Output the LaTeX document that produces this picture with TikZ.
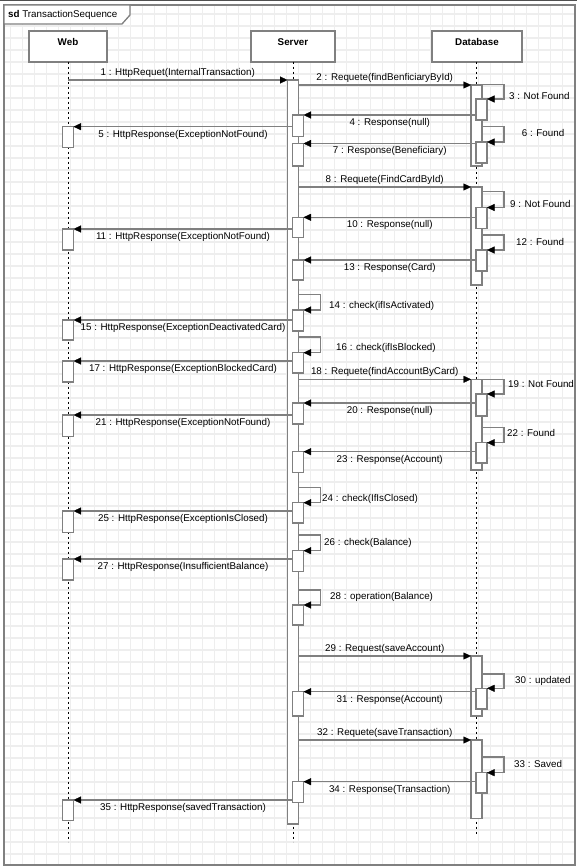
\documentclass[tikz,border=0pt]{standalone}
\usepackage{fontspec}
\setmainfont{Liberation Sans}
\usetikzlibrary{arrows.meta}
\definecolor{ln}{RGB}{128,128,128}
\definecolor{gridc}{RGB}{238,238,238}
\definecolor{topbar}{RGB}{80,80,80}
\newcommand\fsz{\fontsize{9.8}{11}\selectfont}
\newcommand\abar[4]{\pgfmathsetmacro\hh{#4-#3}\pgfmathsetmacro\cy{(#3+#4)/2}\node[actbar, minimum height=\hh pt] (#1) at (#2,\cy) {};}
\tikzset{
  gridl/.style={draw=gridc, line width=1.4pt},
  framel/.style={draw=ln, line width=1.3pt},
  msg/.style={draw=ln, line width=1.2pt, -{Triangle[length=7.5pt,width=7pt,color=black,line width=0.3pt]}},
  actbar/.style={draw=ln, fill=white, line width=1.2pt, minimum width=11pt, inner sep=0pt, outer sep=0pt},
  head/.style={draw=ln, line width=1.8pt, fill=white, inner sep=0pt, outer sep=0pt, minimum height=30.7pt, text height=14.2pt, text depth=16.5pt, font=\bfseries\fsz},
  lifeline/.style={draw=black, line width=0.8pt, dash pattern=on 2.5pt off 2.5pt},
  lbl/.style={font=\fsz, inner sep=0pt, text=black},
  req/.style={lbl, yshift=7.3pt},
  rsp/.style={lbl, yshift=-7.8pt}
}
\begin{document}
\begin{tikzpicture}[x=1pt, y=-1pt]
\useasboundingbox (0,0) rectangle (577,867);
% grid
\begin{scope}
\clip (4,5) rectangle (575,865);
\foreach \i in {0,...,47} \draw[gridl] ({10.7+12*\i},0) -- ({10.7+12*\i},867);
\foreach \j in {0,...,72} \draw[gridl] (0,{2+12*\j}) -- (577,{2+12*\j});
\end{scope}
\fill[topbar] (0,0) rectangle (577,1.5);
% frame
\draw[framel] (4,5) rectangle (575,865);
\draw[framel, fill=white] (4,5) -- (130,5) -- (130,15) -- (122,24) -- (4,24) -- cycle;
\node[lbl, anchor=west] (title) at (8,15) {\textbf{sd} TransactionSequence};
% heads
\node[head, minimum width=78pt] (web) at (68,46.35) {Web};
\node[head, minimum width=84pt] (server) at (293,46.35) {Server};
\node[head, minimum width=90pt] (db) at (477,46.35) {Database};
\coordinate (webend) at (68,841.7);
\coordinate (srvend) at (293,841.7);
\coordinate (dbend) at (476.5,835);
\draw[lifeline] (web.south) -- (webend);
\draw[lifeline] (server.south -| srvend) -- (srvend);
\draw[lifeline] (db.south -| dbend) -- (dbend);
% main bars
\abar{S0}{293}{80}{824}
\abar{D1}{476.5}{85}{166}
\abar{D4}{476.5}{187}{285}
\abar{D7}{476.5}{379.3}{470}
\abar{D10}{476.5}{656}{716}
\abar{D12}{476.5}{740}{818.3}
% web bars
\abar{W1}{68}{126.7}{147.7}
\abar{W2}{68}{229}{250}
\abar{W3}{68}{320}{340}
\abar{W4}{68}{361}{382}
\abar{W5}{68}{415}{436.7}
\abar{W6}{68}{511}{532.7}
\abar{W7}{68}{559}{580}
\abar{W8}{68}{800}{820.7}
% server nested bars
\abar{S1}{298}{115}{136.5}
\abar{S2}{298}{143.5}{166}
\abar{S3}{298}{217.3}{237.7}
\abar{S4}{298}{260}{280}
\abar{S5}{298}{310}{331}
\abar{S6}{298}{352.7}{373}
\abar{S7}{298}{403}{424}
\abar{S8}{298}{451.7}{472.7}
\abar{S9}{298}{502.7}{523}
\abar{S10}{298}{550.7}{571.7}
\abar{S11}{298}{605}{625}
\abar{S12}{298}{691.7}{716}
\abar{S13}{298}{781.7}{802.3}
% db nested bars
\abar{D2}{481.5}{99}{120}
\abar{D3}{481.5}{142}{163}
\abar{D5}{481.5}{207.5}{228.5}
\abar{D6}{481.5}{250}{271}
\abar{D8}{481.5}{394}{416}
\abar{D9}{481.5}{442.7}{463}
\abar{D11}{481.5}{688.3}{709}
\abar{D13}{481.5}{772.7}{793}
% loop tops
\coordinate (t3) at (0,84.5);
\coordinate (t6) at (0,126.5);
\coordinate (t9) at (0,191.7);
\coordinate (t12) at (0,235);
\coordinate (t14) at (0,294.3);
\coordinate (t16) at (0,337);
\coordinate (t19) at (0,379.3);
\coordinate (t22) at (0,427.7);
\coordinate (t24) at (0,487.7);
\coordinate (t26) at (0,535);
\coordinate (t28) at (0,590);
\coordinate (t30) at (0,674);
\coordinate (t33) at (0,757);
% messages
\draw[msg] (web |- S0.north) -- node[req] (m1) {1 : HttpRequet(InternalTransaction)} (S0.north west);
\draw[msg] (S0.east |- D1.north) -- node[req] (m2) {2 : Requete(findBenficiaryById)} (D1.north west);
\draw[msg] (D1.east |- t3) -- ++(22,0) |- (D2.north east);
\node[lbl, anchor=west] (l3) at (509,96) {3 : Not Found};
\draw[msg] (D2.west |- S1.north) -- node[rsp] (m4) {4 : Response(null)} (S1.north east);
\draw[msg] (S1.west |- W1.north) -- node[rsp] (m5) {5 : HttpResponse(ExceptionNotFound)} (W1.north east);
\draw[msg] (D1.east |- t6) -- ++(22,0) |- (D3.north east);
\node[lbl, anchor=west] (l6) at (521.7,133) {6 : Found};
\draw[msg] (D3.west |- S2.north) -- node[rsp] (m7) {7 : Response(Beneficiary)} (S2.north east);
\draw[msg] (S0.east |- D4.north) -- node[req] (m8) {8 : Requete(FindCardById)} (D4.north west);
\draw[msg] (D4.east |- t9) -- ++(22,0) |- (D5.north east);
\node[lbl, anchor=west] (l9) at (510,204) {9 : Not Found};
\draw[msg] (D5.west |- S3.north) -- node[rsp] (m10) {10 : Response(null)} (S3.north east);
\draw[msg] (S3.west |- W2.north) -- node[rsp] (m11) {11 : HttpResponse(ExceptionNotFound)} (W2.north east);
\draw[msg] (D4.east |- t12) -- ++(22,0) |- (D6.north east);
\node[lbl, anchor=west] (l12) at (516,241.7) {12 : Found};
\draw[msg] (D6.west |- S4.north) -- node[rsp] (m13) {13 : Response(Card)} (S4.north east);
\draw[msg] (S0.east |- t14) -- ++(22,0) |- (S5.north east);
\node[lbl, anchor=west] (l14) at (329,306) {14 : check(ifIsActivated)};
\draw[msg] (S5.west |- W3.north) -- node[rsp] (m15) {15 : HttpResponse(ExceptionDeactivatedCard)} (W3.north east);
\draw[msg] (S0.east |- t16) -- ++(22,0) |- (S6.north east);
\node[lbl, anchor=west] (l16) at (336,348) {16 : check(ifIsBlocked)};
\draw[msg] (S6.west |- W4.north) -- node[rsp] (m17) {17 : HttpResponse(ExceptionBlockedCard)} (W4.north east);
\draw[msg] (S0.east |- D7.north) -- node[req] (m18) {18 : Requete(findAccountByCard)} (D7.north west);
\draw[msg] (D7.east |- t19) -- ++(22,0) |- (D8.north east);
\node[lbl, anchor=west] (l19) at (508,384) {19 : Not Found};
\draw[msg] (D8.west |- S7.north) -- node[rsp] (m20) {20 : Response(null)} (S7.north east);
\draw[msg] (S7.west |- W5.north) -- node[rsp] (m21) {21 : HttpResponse(ExceptionNotFound)} (W5.north east);
\draw[msg] (D7.east |- t22) -- ++(22,0) |- (D9.north east);
\node[lbl, anchor=west] (l22) at (507,432.5) {22 : Found};
\draw[msg] (D9.west |- S8.north) -- node[rsp] (m23) {23 : Response(Account)} (S8.north east);
\draw[msg] (S0.east |- t24) -- ++(22,0) |- (S9.north east);
\node[lbl, anchor=west] (l24) at (322,499) {24 : check(IfIsClosed)};
\draw[msg] (S9.west |- W6.north) -- node[rsp] (m25) {25 : HttpResponse(ExceptionIsClosed)} (W6.north east);
\draw[msg] (S0.east |- t26) -- ++(22,0) |- (S10.north east);
\node[lbl, anchor=west] (l26) at (324,542.7) {26 : check(Balance)};
\draw[msg] (S10.west |- W7.north) -- node[rsp] (m27) {27 : HttpResponse(InsufficientBalance)} (W7.north east);
\draw[msg] (S0.east |- t28) -- ++(22,0) |- (S11.north east);
\node[lbl, anchor=west] (l28) at (330,596.7) {28 : operation(Balance)};
\draw[msg] (S0.east |- D10.north) -- node[req] (m29) {29 : Request(saveAccount)} (D10.north west);
\draw[msg] (D10.east |- t30) -- ++(22,0) |- (D11.north east);
\node[lbl, anchor=west] (l30) at (515,680.7) {30 : updated};
\draw[msg] (D11.west |- S12.north) -- node[rsp] (m31) {31 : Response(Account)} (S12.north east);
\draw[msg] (S0.east |- D12.north) -- node[req] (m32) {32 : Requete(saveTransaction)} (D12.north west);
\draw[msg] (D12.east |- t33) -- ++(22,0) |- (D13.north east);
\node[lbl, anchor=west] (l33) at (514,764.3) {33 : Saved};
\draw[msg] (D13.west |- S13.north) -- node[rsp] (m34) {34 : Response(Transaction)} (S13.north east);
\draw[msg] (S13.west |- W8.north) -- node[rsp] (m35) {35 : HttpResponse(savedTransaction)} (W8.north east);
\end{tikzpicture}
\end{document}
